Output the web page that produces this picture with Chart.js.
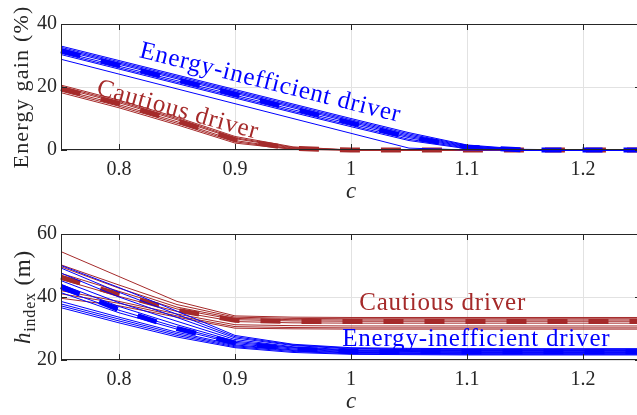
<!DOCTYPE html>
<html>
<head>
<meta charset="utf-8">
<script src="https://cdn.jsdelivr.net/npm/chart.js@4.4.1/dist/chart.umd.min.js"></script>
<style>
  html, body { margin: 0; padding: 0; background: #fff; overflow: hidden; width: 637px; height: 415px; }
  #wrap { position: relative; width: 650px; height: 415px; }
  canvas { position: absolute; left: 0; }
  #top { top: 0; }
  #bottom { top: 207px; }
</style>
</head>
<body>
<div id="wrap">
  <canvas id="top" width="650" height="207"></canvas>
  <canvas id="bottom" width="650" height="208"></canvas>
</div>
<script>
// shared x grid (speed scaling factor c)
const cValues = [0.75, 0.8, 0.85, 0.9, 0.95, 1.0, 1.05, 1.1, 1.15, 1.2, 1.25];
const xTicks = [0.8, 0.9, 1, 1.1, 1.2];
const xTickLabels = ["0.8", "0.9", "1", "1.1", "1.2"];

// top panel: energy gain (%)
const gainTicks = [0, 20, 40];
const gainInefficient = [
  [33.0, 28.4, 23.8, 19.2, 14.6, 10.0, 5.5, 1.6, 0.2, 0, 0],
  [32.6, 28.0, 23.4, 18.8, 14.2, 9.6, 5.1, 1.4, 0.1, 0, 0],
  [32.2, 27.6, 23.0, 18.4, 13.8, 9.2, 4.7, 1.2, 0.1, 0, 0],
  [31.8, 27.2, 22.6, 18.0, 13.4, 8.8, 4.3, 1.0, 0, 0, 0],
  [31.2, 26.6, 22.0, 17.4, 12.8, 8.3, 3.9, 0.8, 0, 0, 0],
  [30.7, 26.1, 21.5, 16.9, 12.3, 7.8, 3.4, 0.6, 0, 0, 0],
  [30.3, 25.7, 21.1, 16.5, 11.9, 7.4, 3.0, 0.4, 0, 0, 0],
  [28.8, 24.1, 19.4, 14.7, 10.0, 5.3, 0.6, 0, 0, 0, 0],
];
const gainInefficientMean = [31.5, 26.9, 22.3, 17.7, 13.1, 8.6, 4.1, 0.9, 0, 0, 0];
const gainCautious = [
  [20.6, 15.8, 10.4, 4.3, 1.0, 0, 0, 0, 0, 0, 0],
  [20.2, 15.4, 10.0, 3.9, 0.8, 0, 0, 0, 0, 0, 0],
  [19.8, 15.0, 9.6, 3.6, 0.6, 0, 0, 0, 0, 0, 0],
  [19.2, 14.4, 9.0, 3.0, 0.4, 0, 0, 0, 0, 0, 0],
  [18.7, 13.9, 8.5, 2.6, 0.3, 0, 0, 0, 0, 0, 0],
  [18.2, 13.4, 8.0, 2.2, 0.2, 0, 0, 0, 0, 0, 0],
];
const gainCautiousMean = [19.5, 14.7, 9.3, 3.3, 0.5, 0, 0, 0, 0, 0, 0];

// bottom panel: h_index (m)
const hTicks = [20, 40, 60];
const hCautious = [
  [54.4, 46.5, 38.6, 34.0, 33.6, 33.5, 33.5, 33.5, 33.5, 33.5, 33.5],
  [50.2, 43.8, 37.6, 33.6, 33.2, 33.1, 33.1, 33.1, 33.1, 33.1, 33.1],
  [49.6, 42.8, 36.8, 33.2, 32.8, 32.7, 32.7, 32.7, 32.7, 32.7, 32.7],
  [47.5, 41.8, 36.2, 32.8, 32.4, 32.3, 32.3, 32.3, 32.3, 32.3, 32.3],
  [45.6, 40.2, 35.4, 32.2, 31.8, 31.7, 31.7, 31.7, 31.7, 31.7, 31.7],
  [42.0, 38.6, 34.6, 31.2, 30.9, 30.8, 30.8, 30.8, 30.8, 30.8, 30.8],
  [41.0, 38.0, 34.0, 30.6, 30.3, 30.2, 30.2, 30.2, 30.2, 30.2, 30.2],
  [39.6, 37.2, 33.6, 30.1, 29.9, 29.8, 29.8, 29.8, 29.8, 29.8, 29.8],
];
const hCautiousMean = [46.3, 40.8, 35.8, 32.6, 32.2, 32.2, 32.2, 32.2, 32.2, 32.2, 32.2];
const hInefficient = [
  [50.0, 43.0, 35.5, 27.8, 25.0, 23.9, 23.7, 23.6, 23.6, 23.6, 23.6],
  [49.2, 41.5, 34.5, 27.4, 24.8, 23.7, 23.5, 23.4, 23.4, 23.4, 23.4],
  [47.6, 40.0, 33.5, 27.0, 24.6, 23.5, 23.3, 23.2, 23.2, 23.2, 23.2],
  [45.2, 38.2, 32.3, 26.5, 24.2, 23.2, 23.0, 23.0, 23.0, 23.0, 23.0],
  [44.0, 37.0, 31.2, 26.0, 24.0, 23.0, 22.9, 22.8, 22.8, 22.8, 22.8],
  [42.4, 35.8, 30.4, 25.6, 23.8, 22.8, 22.7, 22.6, 22.6, 22.6, 22.6],
  [41.4, 35.0, 29.8, 25.2, 23.5, 22.6, 22.5, 22.4, 22.4, 22.4, 22.4],
  [38.6, 33.6, 28.8, 24.8, 23.2, 22.4, 22.3, 22.2, 22.2, 22.2, 22.2],
  [37.8, 33.0, 28.3, 24.5, 23.0, 22.2, 22.1, 22.0, 22.0, 22.0, 22.0],
  [37.2, 32.4, 27.8, 24.2, 22.7, 22.0, 21.9, 21.8, 21.8, 21.8, 21.8],
  [36.6, 31.8, 27.3, 23.9, 22.4, 21.8, 21.7, 21.6, 21.6, 21.6, 21.6],
];
const hInefficientMean = [43.3, 36.0, 30.0, 25.4, 23.5, 22.7, 22.6, 22.6, 22.6, 22.6, 22.6];

// text labels placed in data coordinates
const gainNotes = [
  { text: "Energy-inefficient driver", c: 0.929, v: 19.2, angle: 14, color: "blue" },
  { text: "Cautious driver", c: 0.849, v: 10.6, angle: 15.5, color: "red" },
];
const hNotes = [
  { text: "Cautious driver", c: 1.079, v: 35.9, angle: 0, color: "red" },
  { text: "Energy-inefficient driver", c: 1.108, v: 24.4, angle: 0, color: "blue" },
];

const BLUE = "#0000ff";
const RED = "#a52a2a";
const INK = "#262626";
const SERIF = '"Liberation Serif", serif';

Chart.defaults.font.family = SERIF;
Chart.defaults.font.size = 20;
Chart.defaults.color = INK;

const pts = (ys) => ys.map((y, i) => ({ x: cValues[i], y }));

function thin(ys, color, order) {
  return { data: pts(ys), borderColor: color, borderWidth: 1, pointRadius: 0, order, clip: 3 };
}
function mean(ys, color, order) {
  return {
    data: pts(ys), borderColor: color, borderWidth: 5, pointRadius: 0,
    borderDash: [20, 21], order, clip: 6,
  };
}

function framePlugin(notes, drawTitles) {
  return {
    id: "frame",
    afterDatasetsDraw(chart) {
      const { ctx, chartArea: a, scales } = chart;
      ctx.save();
      ctx.strokeStyle = INK;
      ctx.lineWidth = 1;
      ctx.strokeRect(a.left + 0.5, a.top + 0.5, a.right - a.left - 1, a.bottom - a.top - 1);
      ctx.beginPath();
      scales.x.ticks.forEach((t) => {
        const px = Math.round(scales.x.getPixelForValue(t.value)) + 0.5;
        ctx.moveTo(px, a.bottom); ctx.lineTo(px, a.bottom - 6);
        ctx.moveTo(px, a.top); ctx.lineTo(px, a.top + 6);
      });
      scales.y.ticks.forEach((t) => {
        const py = Math.round(scales.y.getPixelForValue(t.value)) + 0.5;
        ctx.moveTo(a.left, py); ctx.lineTo(a.left + 6, py);
        ctx.moveTo(a.right, py); ctx.lineTo(a.right - 6, py);
      });
      ctx.stroke();

      ctx.font = "25px " + SERIF;
      ctx.letterSpacing = "0.8px";
      ctx.textAlign = "center";
      ctx.textBaseline = "alphabetic";
      notes.forEach((n) => {
        ctx.save();
        ctx.translate(scales.x.getPixelForValue(n.c), scales.y.getPixelForValue(n.v));
        ctx.rotate((n.angle * Math.PI) / 180);
        ctx.fillStyle = n.color === "blue" ? BLUE : RED;
        ctx.fillText(n.text, 0, 0);
        ctx.restore();
      });
      ctx.letterSpacing = "0px";

      // x title
      ctx.fillStyle = INK;
      ctx.font = "italic 23px " + SERIF;
      ctx.textAlign = "center";
      ctx.fillText("c", (a.left + a.right) / 2, a.bottom + 48);

      drawTitles(ctx, a);
      ctx.restore();
    },
  };
}

function makeChart(id, yMin, yMax, yTicks, datasets, notes, drawTitles) {
  const el = document.getElementById(id);
  const padTop = id === "top" ? 24 : 27;
  return new Chart(el, {
    type: "line",
    data: { datasets },
    options: {
      responsive: false,
      animation: false,
      devicePixelRatio: 1,
      layout: { padding: { top: padTop, right: 9, left: 0, bottom: 0 } },
      elements: { line: { tension: 0 } },
      plugins: { legend: { display: false }, tooltip: { enabled: false } },
      scales: {
        x: {
          type: "linear",
          min: 0.75,
          max: 1.25,
          border: { display: false },
          grid: { color: "#e2e2e2", drawTicks: false },
          afterBuildTicks: (s) => { s.ticks = xTicks.map((v) => ({ value: v })); },
          afterFit: (s) => { s.height = el.height - (padTop + 126); },
          ticks: {
            padding: 8,
            maxRotation: 0,
            callback: (v) => xTickLabels[xTicks.indexOf(v)] ?? "",
          },
        },
        y: {
          min: yMin,
          max: yMax,
          border: { display: false },
          grid: { color: "#e2e2e2", drawTicks: false },
          afterBuildTicks: (s) => { s.ticks = yTicks.map((v) => ({ value: v })); },
          afterFit: (s) => { s.width = 61; },
          ticks: { padding: 4, callback: (v) => String(v) },
        },
      },
    },
    plugins: [framePlugin(notes, drawTitles)],
  });
}

makeChart(
  "top", 0, 40, gainTicks,
  [
    mean(gainInefficientMean, BLUE, 0),
    ...gainInefficient.map((ys) => thin(ys, BLUE, 1)),
    mean(gainCautiousMean, RED, 2),
    ...gainCautious.map((ys) => thin(ys, RED, 3)),
  ],
  gainNotes,
  (ctx, a) => {
    ctx.save();
    ctx.translate(28, 87);
    ctx.rotate(-Math.PI / 2);
    ctx.font = "22px " + SERIF;
    ctx.letterSpacing = "1.2px";
    ctx.textAlign = "center";
    ctx.fillStyle = INK;
    ctx.fillText("Energy gain (%)", 0, 0);
    ctx.restore();
  }
);

makeChart(
  "bottom", 20, 60, hTicks,
  [
    mean(hInefficientMean, BLUE, 0),
    ...hInefficient.map((ys) => thin(ys, BLUE, 1)),
    mean(hCautiousMean, RED, 2),
    ...hCautious.map((ys) => thin(ys, RED, 3)),
  ],
  hNotes,
  (ctx, a) => {
    ctx.save();
    ctx.translate(30, 297 - 207);
    ctx.rotate(-Math.PI / 2);
    ctx.fillStyle = INK;
    ctx.textAlign = "left";
    ctx.letterSpacing = "0.8px";
    const parts = [
      { t: "h", f: "italic 23px " + SERIF, dy: 0 },
      { t: "index", f: "16px " + SERIF, dy: 5 },
      { t: " (m)", f: "23px " + SERIF, dy: 0 },
    ];
    let total = 0;
    parts.forEach((p) => { ctx.font = p.f; p.w = ctx.measureText(p.t).width; total += p.w; });
    let x = -total / 2;
    parts.forEach((p) => { ctx.font = p.f; ctx.fillText(p.t, x, p.dy); x += p.w; });
    ctx.restore();
  }
);
</script>
</body>
</html>
